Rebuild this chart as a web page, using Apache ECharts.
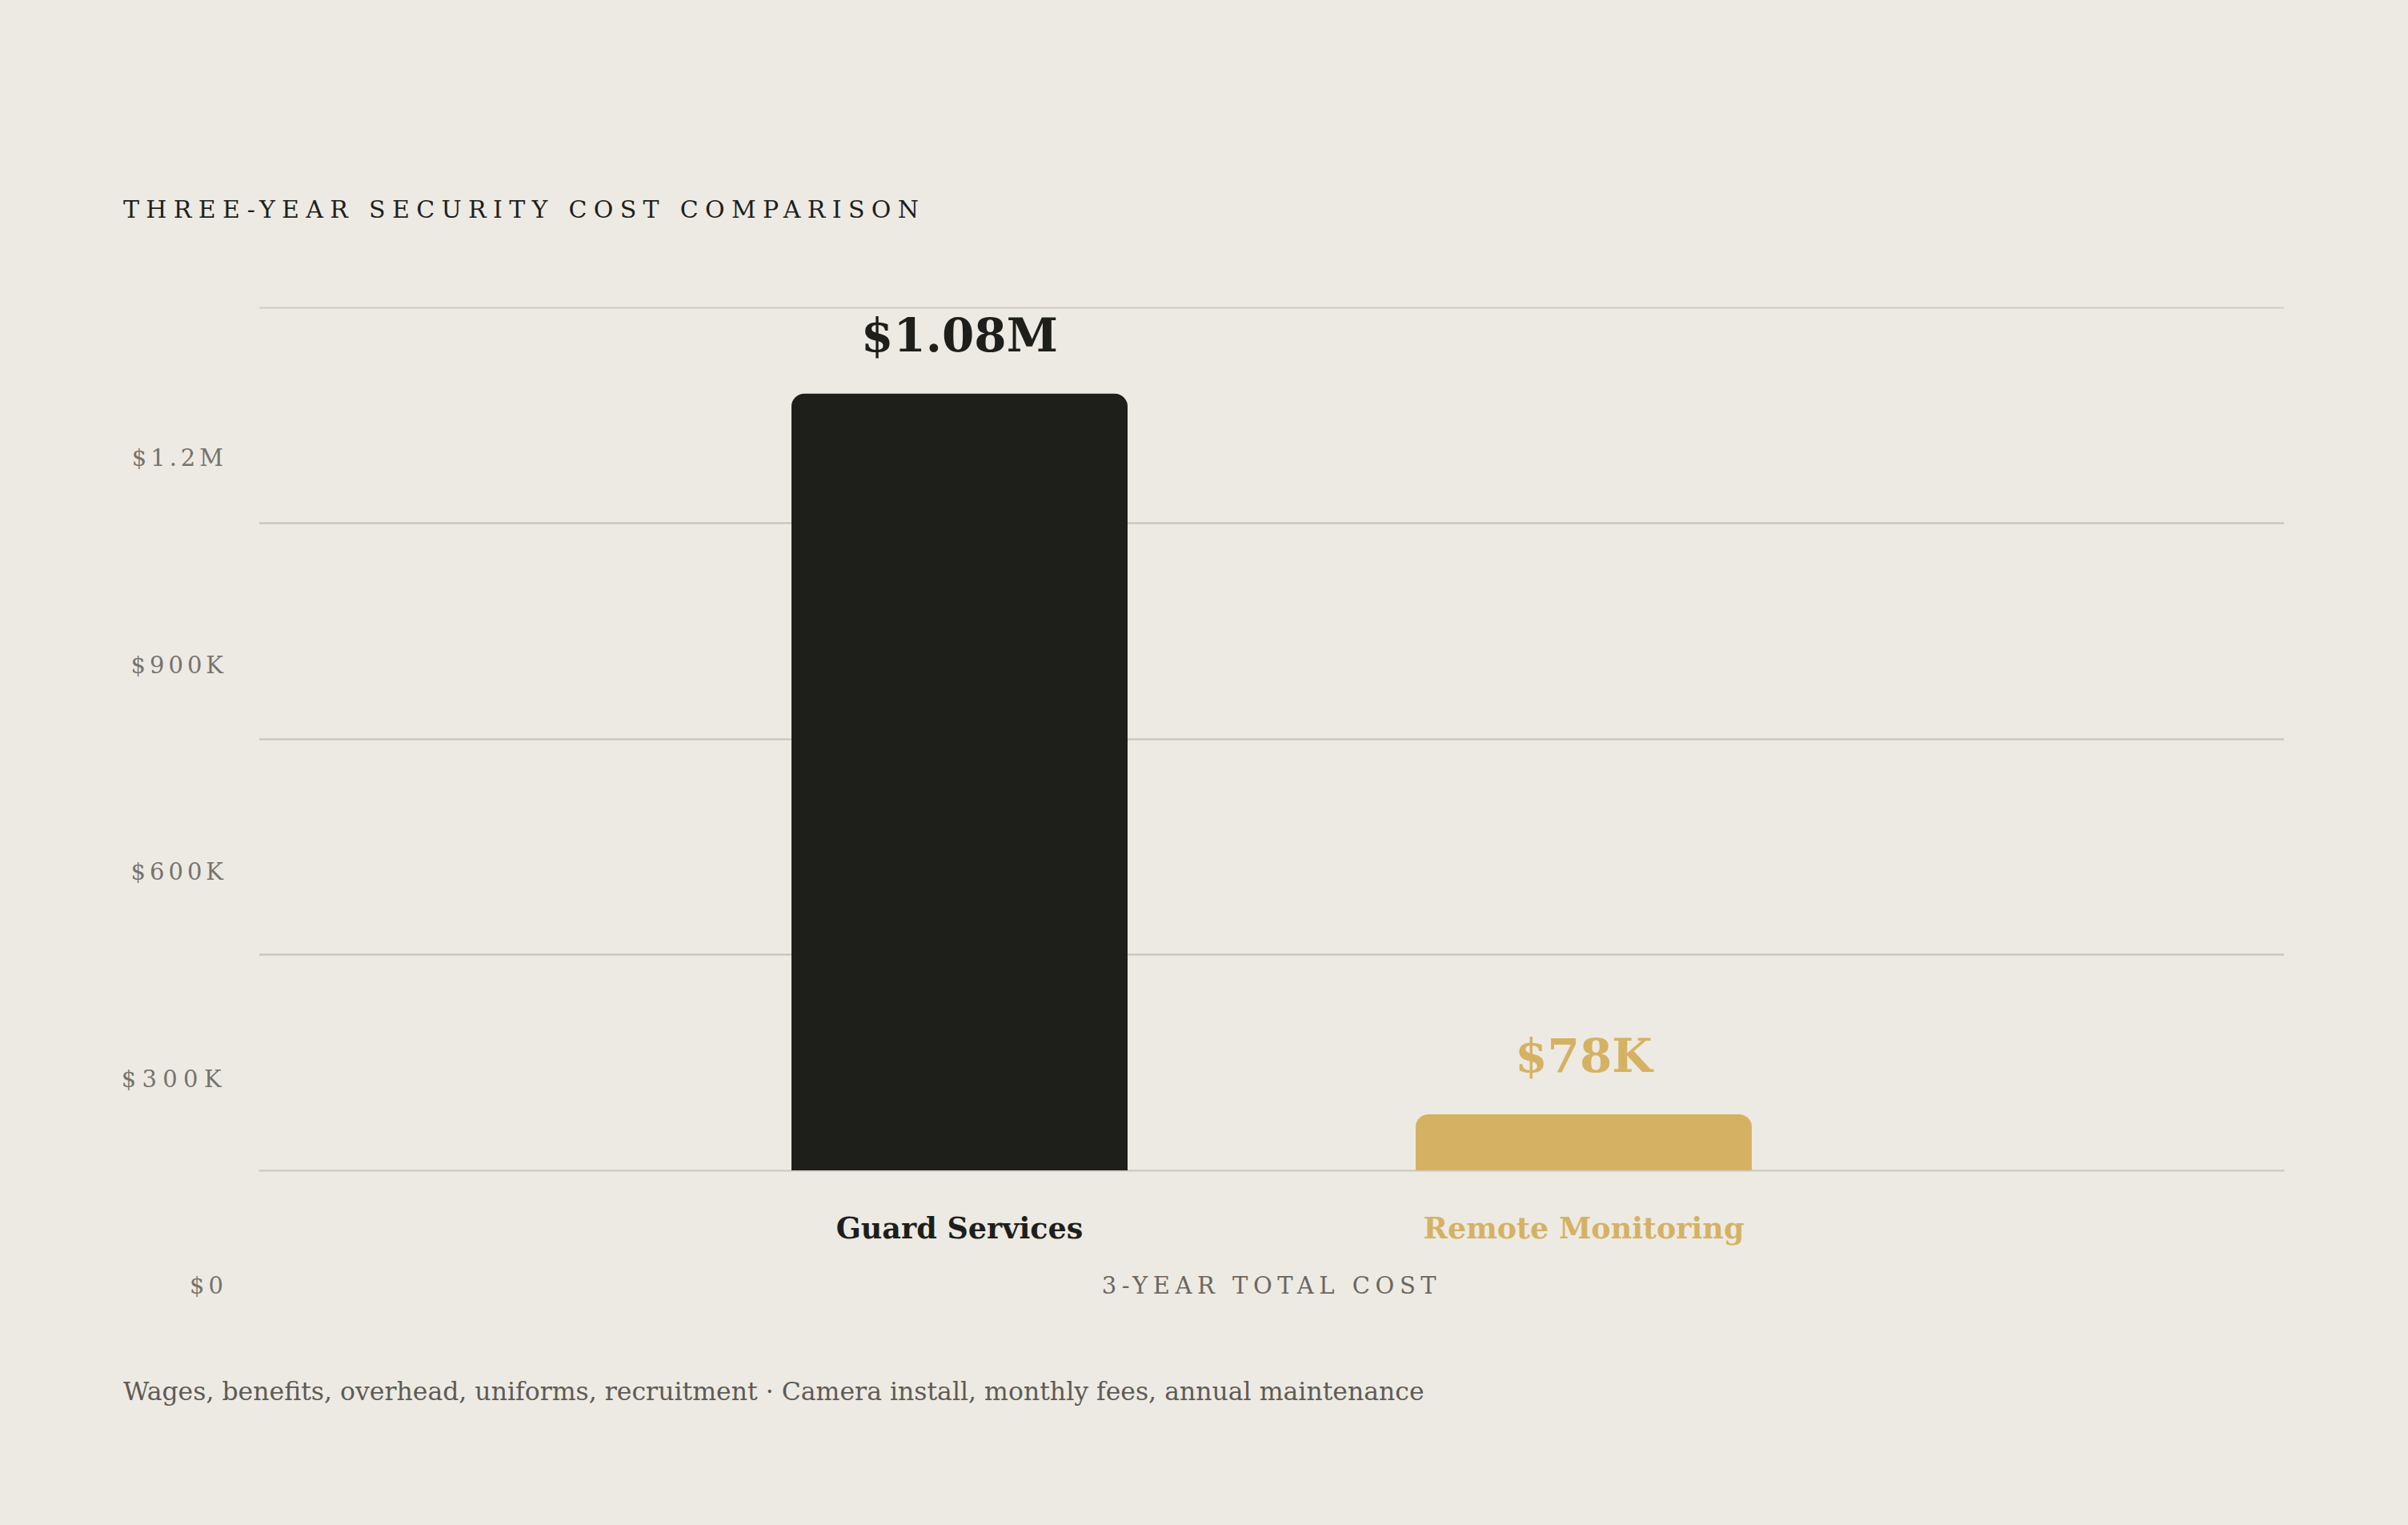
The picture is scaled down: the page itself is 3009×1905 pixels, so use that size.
<!DOCTYPE html>
<html>
<head>
<meta charset="utf-8">
<script src="https://cdn.jsdelivr.net/npm/echarts@6/dist/echarts.min.js"></script>
<style>
html,body{margin:0;padding:0;background:#edeae3;}
#chart{width:3009px;height:1905px;}
</style>
</head>
<body>
<div id="chart"></div>
<script>
const titleText = 'THREE-YEAR SECURITY COST COMPARISON';
const footerText = 'Wages, benefits, overhead, uniforms, recruitment · Camera install, monthly fees, annual maintenance';
const axisName = '3-YEAR TOTAL COST';
const categories = ['Guard Services', 'Remote Monitoring'];
const values = [1080000, 78000];
const barColors = ['#1e1f1b', '#d5b263'];
const yTicks = [0, 300000, 600000, 900000, 1200000];

const FONT = 'DejaVu Serif';
const yMax = yTicks[yTicks.length - 1];
const yStep = yTicks[1] - yTicks[0];

function money(v) {
  if (v === 0) return '$0';
  if (v >= 1e6) return '$' + (v / 1e6) + 'M';
  return '$' + (v / 1e3) + 'K';
}
const yLabelTexts = yTicks.map(money);

const chart = echarts.init(document.getElementById('chart'), null, {renderer: 'svg'});
const option = {
  backgroundColor: '#edeae3',
  animation: false,
  title: [{
    text: titleText, left: 154, top: 246, padding: 0,
    textStyle: {fontFamily: FONT, fontSize: 30, fontWeight: 'normal', color: '#1f1f1c'}
  }, {
    text: footerText, left: 154, top: 1722, padding: 0,
    textStyle: {fontFamily: FONT, fontSize: 31.5, fontWeight: 'normal', color: '#5f5b55'}
  }],
  grid: [
    {left: 324, right: 155, top: 384, bottom: 443},
    {left: 809, right: 640, top: 384, bottom: 443},
    {left: 324, right: 155, top: 572, bottom: 299}
  ],
  xAxis: [
    {gridIndex: 0, type: 'value', min: 0, max: 1, show: true,
     axisLine: {show: true, lineStyle: {color: '#d3cfc7', width: 2}},
     axisTick: {show: false}, axisLabel: {show: false}, splitLine: {show: false},
     name: axisName, nameLocation: 'middle', nameGap: 129,
     nameTextStyle: {fontFamily: FONT, fontSize: 29, color: '#6b6760'}},
    {gridIndex: 1, type: 'category', data: categories,
     axisLine: {show: false}, axisTick: {show: false},
     axisLabel: {margin: 54, fontFamily: FONT, fontSize: 36.5, fontWeight: 'bold',
       formatter: function (v, i) { return '{c' + i + '|' + v + '}'; },
       rich: {
         c0: {fontFamily: FONT, fontSize: 36.5, fontWeight: 'bold', color: barColors[0]},
         c1: {fontFamily: FONT, fontSize: 36.5, fontWeight: 'bold', color: barColors[1]}
       }}},
    {gridIndex: 2, type: 'value', show: false}
  ],
  yAxis: [
    {gridIndex: 0, type: 'value', min: 0, max: yMax, interval: yStep,
     axisLine: {show: false}, axisTick: {show: false}, axisLabel: {show: false},
     splitLine: {show: true, lineStyle: {color: ['#d3cfc7', '#cbc7bf', '#cbc7bf', '#cbc7bf', '#d6d2ca'], width: 2.5}}},
    {gridIndex: 1, type: 'value', min: 0, max: yMax, interval: yStep, show: false},
    {gridIndex: 2, type: 'value', min: 0, max: yMax, interval: yStep,
     axisLine: {show: false}, axisTick: {show: false}, splitLine: {show: false},
     axisLabel: {margin: 40, fontFamily: FONT, fontSize: 29, color: '#77736b', formatter: money}}
  ],
  series: [{
    type: 'bar', xAxisIndex: 1, yAxisIndex: 1, barWidth: 420,
    data: values.map(function (v, i) {
      return {value: v, itemStyle: {color: barColors[i], borderRadius: [16, 16, 0, 0]},
        label: {color: barColors[i]}};
    }),
    label: {show: true, position: 'top', distance: 44, fontFamily: FONT, fontSize: 58, fontWeight: 'bold',
      formatter: function (p) { return money(p.value); }}
  }]
};
chart.setOption(option);

// letter-spaced caps styling (target visible widths in px)
function spaceOut() {
  const texts = document.querySelectorAll('#chart svg text');
  texts.forEach(function (t) {
    if (t.getAttribute('data-ls')) return;
    const s = t.textContent;
    let target = null;
    if (s === titleText) target = 994;
    else if (s === axisName) target = 418;
    else if (s === '$300K') target = 125;
    else if (yLabelTexts.indexOf(s) >= 0) target = -1;
    if (target === null) return;
    t.setAttribute('data-ls', '1');
    let ls;
    if (target === -1) ls = 5;
    else {
      const len = t.getComputedTextLength();
      ls = (target - len) / Math.max(1, s.length - 1);
    }
    t.setAttribute('letter-spacing', ls.toFixed(2));
    t.style.letterSpacing = ls.toFixed(2) + 'px';
  });
}
chart.on('finished', spaceOut);
setTimeout(spaceOut, 50);
setTimeout(spaceOut, 300);
</script>
</body>
</html>
